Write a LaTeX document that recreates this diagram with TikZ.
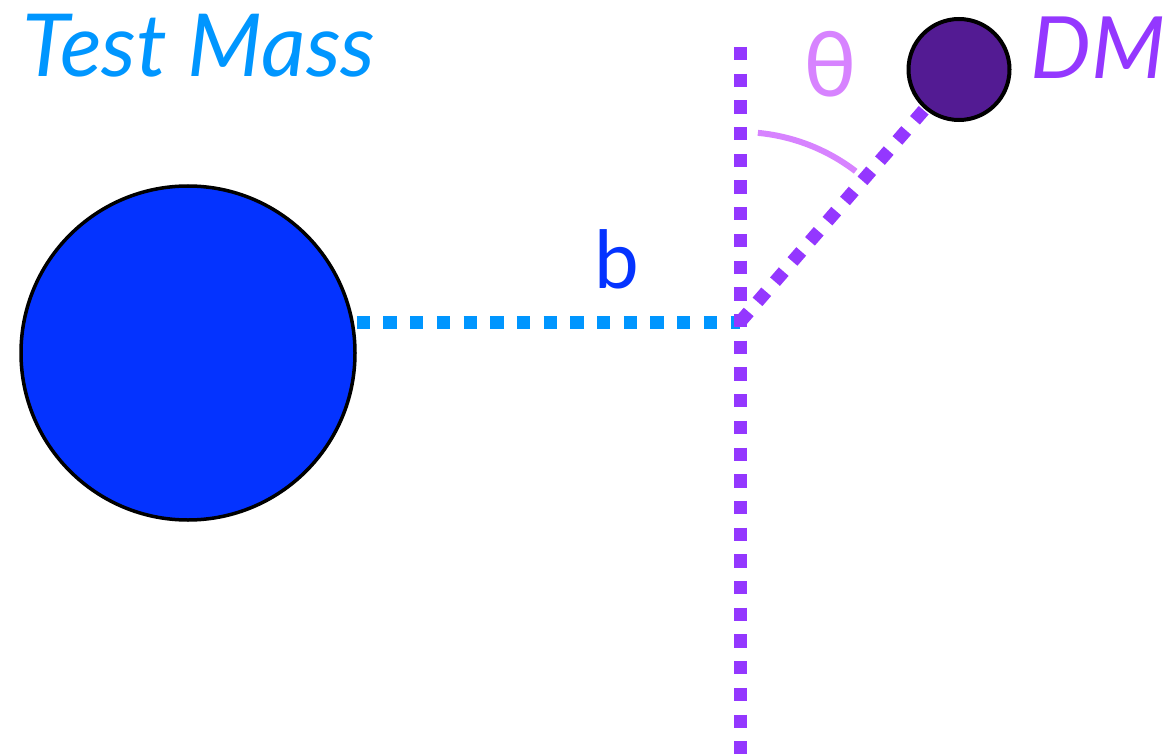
\documentclass[tikz,border=0pt]{standalone}
\usepackage{fontspec}
\setmainfont{Lato}
\usetikzlibrary{backgrounds}
\definecolor{tmblue}{HTML}{0433FF}
\definecolor{skyblue}{HTML}{0096FF}
\definecolor{dmpurple}{HTML}{9437FF}
\definecolor{dmfill}{HTML}{531B93}
\definecolor{lightpurple}{HTML}{D783FF}
\tikzset{
  dotline/.style={line width=13pt, dash pattern=on 13.3pt off 13.4pt},
  ball/.style={circle, draw=black, inner sep=0pt},
  lbl/.style={inner sep=0pt}
}
\begin{document}
\begin{tikzpicture}[x=1pt,y=1pt]
\useasboundingbox (0,0) rectangle (1167,-754);
% nodes
\node[ball, fill=tmblue, line width=3.5pt, minimum size=334pt] (tm) at (188,-353) {};
\node[ball, fill=dmfill, line width=4pt, minimum size=101pt] (dm) at (959,-69.5) {};
\coordinate (o) at (740,-322);
\coordinate (top) at (740,-47);
\coordinate (bot) at (740,-760);
% lines
\begin{scope}[on background layer]
\draw[dotline, draw=skyblue] (tm.east |- o) -- (o);
\draw[dotline, draw=dmpurple] (top) -- (bot);
\draw[dotline, draw=dmpurple] (o) -- (dm);
\end{scope}
% angle arc
\draw[lightpurple, line width=6pt] (o) ++(84.6:190) arc[start angle=84.6, end angle=52.5, radius=190];
% labels
\node[lbl, anchor=base west, text=skyblue, font=\fontsize{87}{87}\selectfont\itshape] (tml) at (22,-77) {Test Mass};
\node[lbl, anchor=base west, text=dmpurple, font=\fontsize{86}{86}\selectfont\itshape] (dml) at (1030,-79) {DM};
\node[lbl, text=lightpurple, font=\fontsize{90}{90}\selectfont] (th) at (830,-64) {θ};
\node[lbl, anchor=base, text=tmblue, font=\fontsize{80}{80}\selectfont] (bl) at (617,-288) {b};
\end{tikzpicture}
\end{document}
